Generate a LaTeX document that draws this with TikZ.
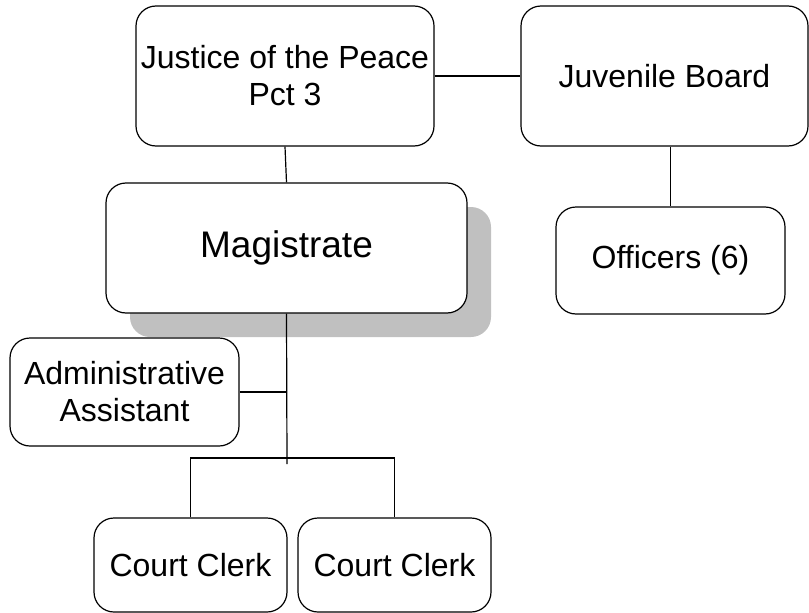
\documentclass[tikz,border=0pt]{standalone}
\usepackage{fontspec}
\setmainfont{Liberation Sans}
\usetikzlibrary{shadows}
\definecolor{shadowgray}{HTML}{C0C0C0}
\begin{document}
\begin{tikzpicture}[x=1pt,y=-1pt,
  box/.style={draw=black,line width=1.2pt,rounded corners=20pt,fill=white,
    align=center,inner sep=0pt,font=\fontsize{32}{37}\selectfont},
  conn/.style={draw=black,line width=1.2pt}]
\useasboundingbox (0,0) rectangle (809,613);
\node[box,minimum width=298pt,minimum height=140pt] (jp) at (285,76) {Justice of the Peace\\Pct 3};
\node[box,minimum width=287pt,minimum height=140pt] (jb) at (664.5,76) {Juvenile Board};
\node[box,minimum width=361pt,minimum height=130pt,font=\fontsize{37}{42}\selectfont,
  drop shadow={shadow xshift=24pt,shadow yshift=-24pt,fill=shadowgray,opacity=1}] (mag) at (286.5,248) {Magistrate};
\node[box,minimum width=229pt,minimum height=107pt] (off) at (670.5,260.5) {Officers (6)};
\node[box,minimum width=229pt,minimum height=108pt] (adm) at (124.5,392) {Administrative\\Assistant};
\node[box,minimum width=193pt,minimum height=94pt] (cc1) at (190.5,565) {Court Clerk};
\node[box,minimum width=193pt,minimum height=94pt] (cc2) at (394.5,565) {Court Clerk};
\coordinate (trunk) at (287,464);
\coordinate (bar) at (287,458);
\draw[conn] (jp.east) -- (jb.west);
\draw[conn] (jp.south) -- (mag.north);
\draw[conn] (off.north |- jb.south) -- (off.north);
\draw[conn] (mag.south) -- (trunk);
\draw[conn] (adm.east) -- (adm.east -| trunk);
\draw[conn] (cc1.north) |- (bar) -| (cc2.north);
\end{tikzpicture}
\end{document}
